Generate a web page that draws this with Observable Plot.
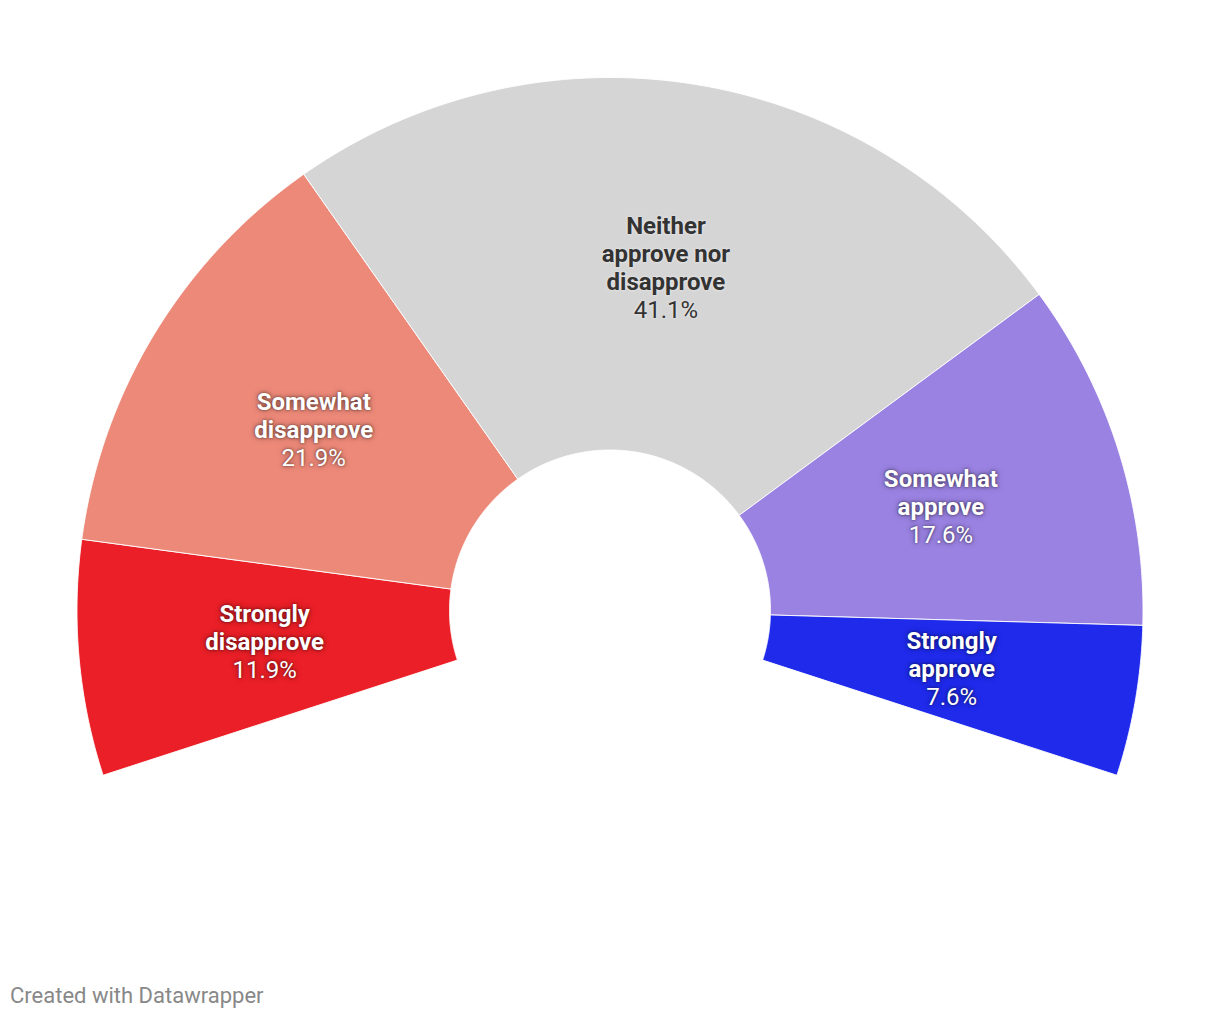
<!DOCTYPE html>
<html>
<head>
<meta charset="utf-8">
<script src="https://cdn.jsdelivr.net/npm/d3@7"></script>
<script src="https://cdn.jsdelivr.net/npm/@observablehq/plot@0.6"></script>
<style>
  html, body { margin: 0; padding: 0; background: #fff; }
  #wrap { position: relative; width: 1220px; height: 1020px; }
  #chart svg { display: block; }
  #footer { position: absolute; left: 10px; top: 983px; font-family: Roboto, sans-serif; font-size: 22px; color: #888; }
  .lbl text { text-shadow: 0 0 3px rgba(0,0,0,0.55), 0 0 6px rgba(0,0,0,0.35); }
  .lbl-dark text { text-shadow: 0 0 3px rgba(255,255,255,0.7); }
</style>
</head>
<body>
<div id="wrap">
  <div id="chart"></div>
  <div id="footer">Created with Datawrapper</div>
</div>
<script>
// Data (clockwise from bottom-left)
const categories = ["Strongly disapprove", "Somewhat disapprove", "Neither approve nor disapprove", "Somewhat approve", "Strongly approve"];
const labelLines = [["Strongly", "disapprove"], ["Somewhat", "disapprove"], ["Neither", "approve nor", "disapprove"], ["Somewhat", "approve"], ["Strongly", "approve"]];
const values = [11.9, 21.9, 41.1, 17.6, 7.6];
const colors = ["#ea1f27", "#ed8979", "#d5d5d5", "#9a82e2", "#1f2aeb"];
const textColors = ["#ffffff", "#ffffff", "#333333", "#ffffff", "#ffffff"];

// Geometry
const W = 1220, H = 975;
const cx = 609.5, cy = 610;
const R = 533, r0 = 160.5;
const startDeg = 198, spanDeg = 216; // clockwise from 198° to -18°
const FS = 24, LH = 28 / 24;

const total = d3.sum(values);
let acc = 0;
const slices = categories.map((c, i) => {
  const a0 = startDeg - acc / total * spanDeg;
  acc += values[i];
  const a1 = startDeg - acc / total * spanDeg;
  return {name: c, i, a0, a1, mid: (a0 + a1) / 2};
});

const rad = d => d * Math.PI / 180;
const pts = [];
for (const s of slices) {
  const n = 120;
  const ring = [];
  for (let k = 0; k <= n; k++) {
    const a = rad(s.a0 + (s.a1 - s.a0) * k / n);
    ring.push({name: s.name, x: R * Math.cos(a), y: R * Math.sin(a)});
  }
  for (let k = n; k >= 0; k--) {
    const a = rad(s.a0 + (s.a1 - s.a0) * k / n);
    ring.push({name: s.name, x: r0 * Math.cos(a), y: r0 * Math.sin(a)});
  }
  ring.push({...ring[0]});
  pts.push(...ring);
}

const rm = (R + r0) / 2;
const labels = slices.map(s => {
  const lines = labelLines[s.i];
  return {
    name: s.name,
    x: rm * Math.cos(rad(s.mid)),
    y: rm * Math.sin(rad(s.mid)),
    title: lines.join("\n") + "\n",
    value: "\n".repeat(lines.length) + values[s.i].toFixed(1) + "%",
    color: textColors[s.i]
  };
});

const light = labels.filter(d => d.color === "#ffffff");
const dark = labels.filter(d => d.color !== "#ffffff");
const common = {x: "x", y: "y", fill: "color", fontSize: FS, lineHeight: LH, lineAnchor: "middle", dy: -1};

const plot = Plot.plot({
  width: W,
  height: H,
  margin: 0,
  x: {domain: [-cx, W - cx], axis: null},
  y: {domain: [-(H - cy), cy], axis: null},
  color: {domain: categories, range: colors},
  style: {fontFamily: "Roboto, sans-serif", background: "transparent"},
  marks: [
    Plot.line(pts, {x: "x", y: "y", z: "name", fill: "name", stroke: "#ffffff", strokeWidth: 1, strokeOpacity: 0.9, curve: "linear"}),
    Plot.text(light, {...common, text: "title", fontWeight: 700, className: "lbl"}),
    Plot.text(light, {...common, text: "value", fontWeight: 400, className: "lbl"}),
    Plot.text(dark, {...common, text: "title", fontWeight: 700, className: "lbl-dark"}),
    Plot.text(dark, {...common, text: "value", fontWeight: 400, className: "lbl-dark"})
  ]
});
document.getElementById("chart").appendChild(plot);
</script>
</body>
</html>
